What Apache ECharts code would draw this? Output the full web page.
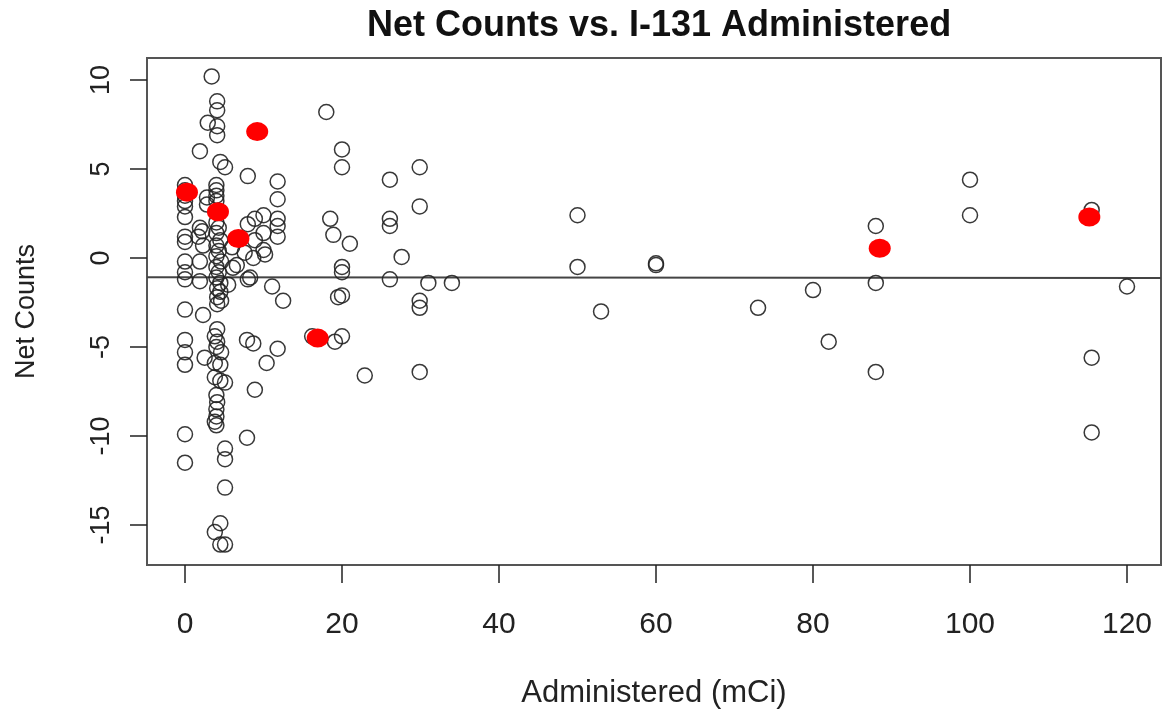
<!DOCTYPE html>
<html><head><meta charset="utf-8">
<script src="https://cdn.jsdelivr.net/npm/echarts@6/dist/echarts.min.js"></script>
<style>html,body{margin:0;padding:0;background:#fff}#c{width:1163px;height:715px}</style>
</head><body><div id="c"></div>
<script>
// Administered activity (mCi) and net counts for each patient (open circles)
const adminX = [
  0,0,0,0,0,0,0,0,0,0,0,0,0,0,0,0,0,
  2.9,1.9,2.8,2.8,1.9,1.7,2.3,1.9,1.9,2.3,2.5,2.2,
  3.4,4.1,4.1,4.1,4.1,4.5,5.1,
  4.0,4.0,4.0,4.0,
  4.0,4.3,4.0,4.5,4.0,4.3,4.0,4.6,4.0,4.3,4.0,4.5,4.1,4.5,
  4.1,4.6,4.1,
  4.1,3.8,4.1,4.0,4.6,3.8,4.5,3.8,4.5,5.1,4.0,4.1,4.0,4.0,3.8,4.0,
  5.1,5.1,5.1,4.5,3.8,4.5,5.1,
  6.0,7.6,6.6,8.3,5.5,6.1,8.0,8.0,7.9,
  8.9,11.8,11.8,10.0,11.8,11.8,11.8,8.0,8.9,10.0,10.0,8.7,11.1,12.5,7.9,8.7,11.8,10.4,8.9,10.2,
  18,20,20,26.1,29.9,29.9,18.5,18.9,21,26.1,26.1,27.6,20,20,26.1,31,34,19.5,20,29.9,29.9,16.2,19.1,20,22.9,29.9,
  50,50,60,60,53,73,80,82,88,88,88,100,100,115.5,115.5,115.5,120
];
const netY = [
  4.1,3.8,3.5,3.2,2.9,2.3,1.2,0.9,-0.2,-0.8,-1.2,-2.9,-4.6,-5.3,-6.0,-9.9,-11.5,
  7.6,6.0,3.4,3.0,1.7,1.2,0.7,-0.2,-1.3,-3.2,-5.6,1.5,
  10.2,8.8,8.3,7.4,6.9,5.4,5.1,
  4.1,3.8,3.5,3.2,
  2.0,1.7,1.4,1.0,0.7,0.4,0.1,-0.2,-0.5,-0.8,-1.1,-1.4,-1.7,-1.9,
  -2.2,-2.4,-2.6,
  -4.0,-4.4,-4.7,-5.0,-5.3,-5.9,-6.0,-6.7,-6.9,-7.0,-7.7,-8.1,-8.5,-8.9,-9.2,-9.4,
  -10.7,-11.3,-12.9,-14.9,-15.4,-16.1,-16.1,
  0.6,0.3,-0.4,-1.1,-1.5,-0.55,-1.2,4.6,-10.1,
  2.2,4.3,3.3,2.4,2.2,1.8,1.2,1.9,1.0,1.4,0.45,0.0,-1.6,-2.4,-4.6,-4.8,-5.1,-5.9,-7.4,0.2,
  8.2,6.1,5.1,4.4,5.1,2.9,2.2,1.3,0.8,2.2,1.8,0.06,-0.5,-0.8,-1.2,-1.4,-1.4,-2.2,-2.1,-2.4,-2.8,-4.4,-4.7,-4.4,-6.6,-6.4,
  2.4,-0.5,-0.3,-0.4,-3.0,-2.8,-1.8,-4.7,1.8,-1.4,-6.4,4.4,2.4,2.7,-5.6,-9.8,-1.6
];
// Highlighted patients (red dots)
const highlightX = [0.25, 4.2, 9.2, 6.8, 16.9, 88.5, 115.2];
const highlightY = [3.7, 2.6, 7.1, 1.1, -4.5, 0.55, 2.3];
// Fitted line end points
const fitX = [-4.84, 124.33];
const fitY = [-1.08, -1.13];
const xTicks = [0, 20, 40, 60, 80, 100, 120];
const yTicks = [-15, -10, -5, 0, 5, 10];

const pts = adminX.map((x, i) => [x, netY[i]]);
const red = highlightX.map((x, i) => [x, highlightY[i]]);
const fit = fitX.map((x, i) => [x, fitY[i]]);

const FONT = "'Liberation Sans', Arial, sans-serif";
const chart = echarts.init(document.getElementById('c'), null, {renderer: 'canvas'});
chart.setOption({
  animation: false,
  backgroundColor: '#fff',
  title: {
    text: 'Net Counts vs. I-131 Administered',
    left: 362, top: 3,
    textStyle: {fontFamily: FONT, fontSize: 36, fontWeight: 'bold', color: '#111'}
  },
  grid: {left: 147, right: 2, top: 58, bottom: 150, show: true, borderColor: '#555', borderWidth: 2, backgroundColor: 'transparent'},
  xAxis: {
    type: 'value', min: -4.84, max: 124.33,
    name: 'Administered (mCi)', nameLocation: 'middle', nameGap: 113,
    nameTextStyle: {fontFamily: FONT, fontSize: 31, color: '#222'},
    axisLine: {show: false, onZero: false},
    axisTick: {show: true, customValues: xTicks, length: 18, lineStyle: {color: '#222', width: 1.5}},
    axisLabel: {customValues: xTicks, margin: 45, fontFamily: FONT, fontSize: 30, color: '#222'},
    splitLine: {show: false}
  },
  yAxis: {
    type: 'value', min: -17.247, max: 11.236,
    name: 'Net Counts', nameLocation: 'middle', nameGap: 107,
    nameTextStyle: {fontFamily: FONT, fontSize: 27, color: '#222'},
    axisLine: {show: false, onZero: false},
    axisTick: {show: true, customValues: yTicks, length: 17, lineStyle: {color: '#222', width: 1.5}},
    axisLabel: {customValues: yTicks, rotate: 90, margin: 32, fontFamily: FONT, fontSize: 27, color: '#222'},
    splitLine: {show: false}
  },
  series: [
    {
      type: 'line', data: fit, symbol: 'none', clip: true,
      lineStyle: {color: '#444', width: 2}, z: 1
    },
    {
      type: 'scatter', data: pts, symbol: 'circle', symbolSize: 15,
      itemStyle: {color: 'rgba(0,0,0,0)', borderColor: '#222', borderWidth: 1.5, opacity: 0.9}, z: 2
    },
    {
      type: 'scatter', data: red, symbol: 'circle', symbolSize: [22, 19],
      itemStyle: {color: '#ff0000', borderWidth: 0, opacity: 1}, z: 3
    }
  ]
});
</script>
</body></html>
